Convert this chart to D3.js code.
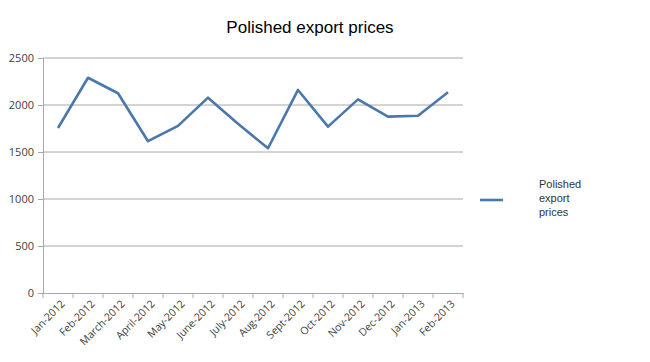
<!DOCTYPE html>
<html>
<head>
<meta charset="utf-8">
<script src="https://cdn.jsdelivr.net/npm/d3@7"></script>
<style>
  body { margin: 0; background: #fff; }
  #chart { width: 650px; height: 362px; }
</style>
</head>
<body>
<div id="chart"></div>
<script>
const months = ["Jan-2012", "Feb-2012", "March-2012", "April-2012", "May-2012", "June-2012",
    "July-2012", "Aug-2012", "Sept-2012", "Oct-2012", "Nov-2012", "Dec-2012", "Jan-2013", "Feb-2013"];
const prices = [1755, 2290, 2125, 1615, 1778, 2078, 1800, 1540, 2160, 1770, 2060, 1876, 1886, 2135];
const yTicks = [0, 500, 1000, 1500, 2000, 2500];
const seriesName = "Polished export prices";

const width = 650, height = 362;
const margin = { top: 58, right: 187, bottom: 69, left: 43 };

const svg = d3.select("#chart").append("svg")
    .attr("width", width)
    .attr("height", height);

const x = d3.scaleBand()
    .domain(months)
    .range([margin.left, width - margin.right]);

const y = d3.scaleLinear()
    .domain([0, 2500])
    .range([height - margin.bottom, margin.top]);

const lineColor = "#4a78ad";
const gridColor = "#a8a8a8";

// title
svg.append("text")
    .attr("x", 310)
    .attr("y", 33)
    .attr("text-anchor", "middle")
    .style("font", "17px 'Liberation Sans', Arial, sans-serif")
    .style("fill", "#000")
    .text(seriesName);

// gridlines
svg.append("g")
    .selectAll("line")
    .data(yTicks.filter(d => d > 0))
    .enter()
    .append("line")
    .attr("x1", margin.left)
    .attr("x2", width - margin.right)
    .attr("y1", d => y(d))
    .attr("y2", d => y(d))
    .attr("stroke", gridColor)
    .attr("stroke-width", 1);

// y axis
const yAxis = svg.append("g")
    .attr("transform", "translate(" + margin.left + ",0)")
    .call(d3.axisLeft(y).tickValues(yTicks).tickFormat(d3.format("d")).tickSize(5).tickPadding(4));
yAxis.select(".domain").attr("stroke", gridColor);
yAxis.selectAll(".tick line").attr("stroke", gridColor);
yAxis.selectAll("text")
    .style("font", "11px 'Open Sans', sans-serif")
    .style("fill", "#404040");

// x axis
const xAxis = svg.append("g")
    .attr("transform", "translate(0," + (height - margin.bottom) + ")")
    .call(d3.axisBottom(x).tickSize(0).tickFormat(""));
xAxis.select(".domain").attr("stroke", gridColor);

// category boundary ticks
svg.append("g")
    .selectAll("line")
    .data(months.concat(["end"]))
    .enter()
    .append("line")
    .attr("x1", (d, i) => margin.left + i * x.step())
    .attr("x2", (d, i) => margin.left + i * x.step())
    .attr("y1", height - margin.bottom)
    .attr("y2", height - margin.bottom + 5)
    .attr("stroke", gridColor);

svg.append("g")
    .selectAll("text")
    .data(months)
    .enter()
    .append("text")
    .attr("transform", d => "translate(" + (x(d) + x.bandwidth() / 2 + 5) + "," + (height - margin.bottom + 9) + ") rotate(-45)")
    .attr("text-anchor", "end")
    .attr("dy", "0.35em")
    .style("font", "10.5px 'Open Sans', sans-serif")
    .style("fill", "#404040")
    .text(d => d);

// line
const line = d3.line()
    .x((d, i) => x(months[i]) + x.bandwidth() / 2)
    .y(d => y(d));

svg.append("path")
    .datum(prices)
    .attr("d", line)
    .attr("fill", "none")
    .attr("stroke", lineColor)
    .attr("stroke-width", 2.6)
    .attr("stroke-linejoin", "round");

// legend
const legend = svg.append("g").attr("class", "legend");
legend.append("line")
    .attr("x1", 480)
    .attr("x2", 503)
    .attr("y1", 200)
    .attr("y2", 200)
    .attr("stroke", lineColor)
    .attr("stroke-width", 2.6);
const legendText = legend.append("text")
    .attr("x", 539)
    .attr("y", 188)
    .style("font", "11px 'Liberation Sans', Arial, sans-serif")
    .style("fill", "#333");
["Polished", "export", "prices"].forEach((w, i) => {
    legendText.append("tspan")
        .attr("x", 539)
        .attr("dy", i === 0 ? 0 : 14)
        .text(w);
});
</script>
</body>
</html>
